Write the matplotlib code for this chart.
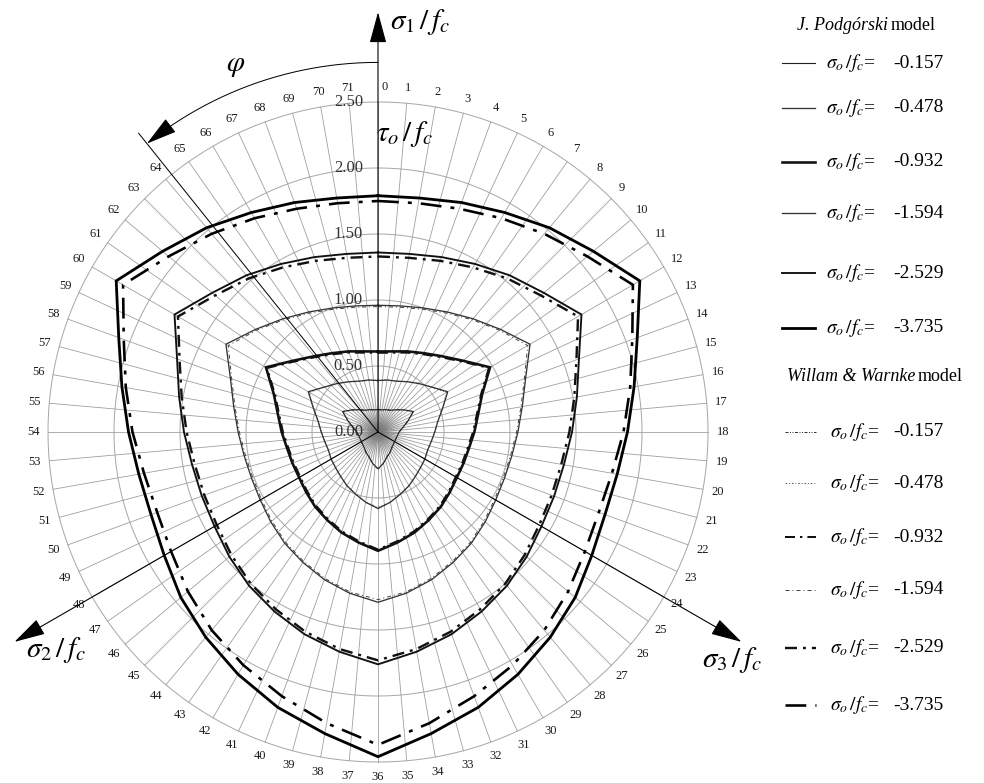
import numpy as np
import matplotlib
matplotlib.use("Agg")
import matplotlib.pyplot as plt

plt.rcParams['font.family'] = ['Liberation Serif', 'DejaVu Serif']
plt.rcParams['mathtext.fontset'] = 'stix'

# ---------------- data ----------------
# angle phi (deg, clockwise from sigma1 axis) for the right half; left half is the mirror image
ANG = [0, 10, 20, 30, 40, 50, 60, 70, 80, 90, 100, 110, 120, 130, 140, 150, 160, 170, 180]
LEVELS = ["-0.157", "-0.478", "-0.932", "-1.594", "-2.529", "-3.735"]

# J. Podgorski model: tau_o/f_c at the angles above
P_0157 = [0.17, 0.17, 0.18, 0.19, 0.22, 0.26, 0.31, 0.24, 0.19, 0.16, 0.15, 0.145, 0.145, 0.15, 0.16, 0.18, 0.20, 0.24, 0.28]
P_0478 = [0.39, 0.40, 0.41, 0.44, 0.48, 0.53, 0.61, 0.52, 0.46, 0.43, 0.41, 0.40, 0.41, 0.42, 0.44, 0.47, 0.50, 0.54, 0.58]
P_0932 = [0.61, 0.62, 0.65, 0.69, 0.75, 0.84, 0.98, 0.84, 0.77, 0.73, 0.70, 0.69, 0.69, 0.71, 0.74, 0.77, 0.81, 0.85, 0.90]
P_1594 = [0.96, 0.97, 1.00, 1.05, 1.12, 1.21, 1.33, 1.19, 1.11, 1.06, 1.03, 1.02, 1.03, 1.06, 1.10, 1.14, 1.19, 1.24, 1.29]
P_2529 = [1.36, 1.37, 1.41, 1.47, 1.55, 1.64, 1.78, 1.62, 1.53, 1.47, 1.43, 1.42, 1.43, 1.47, 1.52, 1.57, 1.63, 1.69, 1.76]
P_3735 = [1.79, 1.80, 1.85, 1.92, 2.02, 2.13, 2.29, 2.09, 1.97, 1.89, 1.84, 1.83, 1.87, 1.95, 2.03, 2.12, 2.22, 2.32, 2.46]

# Willam & Warnke model
W_0157 = [0.17, 0.17, 0.18, 0.19, 0.22, 0.26, 0.31, 0.24, 0.19, 0.16, 0.15, 0.145, 0.145, 0.15, 0.16, 0.18, 0.20, 0.24, 0.28]
W_0478 = [0.39, 0.40, 0.41, 0.44, 0.48, 0.53, 0.60, 0.52, 0.46, 0.43, 0.41, 0.40, 0.41, 0.42, 0.44, 0.47, 0.50, 0.54, 0.57]
W_0932 = [0.60, 0.61, 0.64, 0.68, 0.74, 0.83, 0.97, 0.83, 0.76, 0.72, 0.69, 0.68, 0.68, 0.70, 0.73, 0.76, 0.80, 0.84, 0.89]
W_1594 = [0.95, 0.96, 0.99, 1.04, 1.11, 1.20, 1.31, 1.18, 1.10, 1.05, 1.02, 1.01, 1.02, 1.05, 1.09, 1.13, 1.18, 1.23, 1.27]
W_2529 = [1.33, 1.34, 1.38, 1.44, 1.52, 1.61, 1.75, 1.60, 1.51, 1.45, 1.41, 1.40, 1.41, 1.45, 1.50, 1.55, 1.61, 1.67, 1.73]
W_3735 = [1.75, 1.76, 1.80, 1.87, 1.96, 2.07, 2.23, 2.05, 1.94, 1.86, 1.80, 1.78, 1.81, 1.88, 1.96, 2.04, 2.13, 2.24, 2.37]

RINGS = [0.0, 0.5, 1.0, 1.5, 2.0, 2.5]
SPOKE_LABELS = [str(k) for k in range(72)]

# ---------------- layout ----------------
W, H = 984, 783
PX = 132.0            # pixels per unit of tau_o/f_c
CX, CY = 378, 432     # centre in pixels
fig = plt.figure(figsize=(W / 100, H / 100), dpi=100)
ax = fig.add_axes([0, 0, 1, 1])
ax.set_xlim(-CX / PX, (W - CX) / PX)
ax.set_ylim(-(H - CY) / PX, CY / PX)
ax.set_aspect('equal')
ax.axis('off')


def pol(r, deg):
    t = np.deg2rad(np.asarray(deg, dtype=float))
    return np.asarray(r) * np.sin(t), np.asarray(r) * np.cos(t)


def lw(px):
    return px * 0.72


GRID = '#a8a8a8'
# rings
tt = np.linspace(0, 360, 721)
for r in RINGS[1:]:
    x, y = pol(r, tt)
    ax.plot(x, y, color=GRID, lw=lw(1.0), zorder=1)
# spokes
nsp = len(SPOKE_LABELS)
for k in range(nsp):
    x, y = pol([0, RINGS[-1]], [k * 360 / nsp] * 2)
    ax.plot(x, y, color='#9c9c9c', lw=lw(0.8), zorder=1)
# soft grey haze where the spokes converge
g = np.linspace(-0.32, 0.32, 161)
gx, gy = np.meshgrid(g, g)
alpha = 0.55 * np.exp(-(gx ** 2 + gy ** 2) / (2 * 0.09 ** 2))
haze = np.zeros(gx.shape + (4,))
haze[..., :3] = 0.35
haze[..., 3] = alpha
ax.imshow(haze, extent=(-0.32, 0.32, -0.32, 0.32), origin='lower', zorder=2,
          interpolation='bilinear')
ax.set_xlim(-CX / PX, (W - CX) / PX)
ax.set_ylim(-(H - CY) / PX, CY / PX)

# spoke numbers
for k, lab in enumerate(SPOKE_LABELS):
    x, y = pol(345 / PX, k * 360 / nsp)
    if k == 0:
        x += 7 / PX
    ax.text(x, y, lab, ha='center', va='center', fontsize=9, color='#1a1a1a')
# ring values
for r in RINGS:
    ax.text(-15 / PX, r, f"{r:.2f}", ha='right', va='center', fontsize=12, color='#333333', zorder=3)

# ---------------- curves ----------------
def full(rr):
    a = list(ANG) + [360 - a for a in ANG[-2::-1]]
    r = list(rr) + list(rr[-2::-1])
    return pol(r, a)

P_SERIES = [P_0157, P_0478, P_0932, P_1594, P_2529, P_3735]
W_SERIES = [W_0157, W_0478, W_0932, W_1594, W_2529, W_3735]
P_STYLE = [dict(lw=lw(1.1), color='#222222'),
           dict(lw=lw(1.3), color='#333333'),
           dict(lw=lw(2.6), color='#111111'),
           dict(lw=lw(1.3), color='#333333'),
           dict(lw=lw(1.9), color='#111111'),
           dict(lw=lw(2.8), color='#000000')]
W_STYLE = [dict(lw=lw(1.0), color='#333333', dashes=(3, 1.5, 1, 1.5, 1, 1.5)),
           dict(lw=lw(0.9), color='#555555', dashes=(2, 2, 1, 2)),
           dict(lw=lw(2.0), color='#111111', dashes=(5, 2.5, 1.2, 2.5)),
           dict(lw=lw(1.0), color='#444444', dashes=(4, 3, 1, 3)),
           dict(lw=lw(2.4), color='#111111', dashes=(5, 2.5, 1.2, 2.5)),
           dict(lw=lw(2.6), color='#000000', dashes=(8, 3.5, 1.5, 3.5))]

for rr, st in zip(W_SERIES, W_STYLE):
    x, y = full(rr)
    ax.plot(x, y, zorder=4, solid_joinstyle='miter', **st)
for rr, st in zip(P_SERIES, P_STYLE):
    x, y = full(rr)
    ax.plot(x, y, zorder=5, solid_joinstyle='miter', **st)

# ---------------- axes arrows ----------------
AX_LEN = 3.18
for ang in (0, 120, 240):
    x, y = pol(AX_LEN, ang)
    ax.annotate('', xy=(x, y), xytext=(0, 0), zorder=6,
                arrowprops=dict(arrowstyle='-|>,head_length=1.4,head_width=0.38',
                                color='black', lw=lw(1.1), shrinkA=0, shrinkB=0,
                                mutation_scale=14))
# phi line and arc
x, y = pol(2.9, 321.3)
ax.plot([0, x], [0, y], color='black', lw=lw(1.0), zorder=6)
ta = np.linspace(0, -36.5, 200)
x, y = pol(2.80, ta)
ax.plot(x, y, color='black', lw=lw(1.0), zorder=6)
x0, y0 = pol(2.80, -36.0)
x1, y1 = pol(2.80, -38.7)
ax.annotate('', xy=(x1, y1), xytext=(x0, y0), zorder=6,
            arrowprops=dict(arrowstyle='-|>,head_length=1.4,head_width=0.38',
                            color='black', lw=lw(1.0), shrinkA=0, shrinkB=0,
                            mutation_scale=14))

def ptext(px, py, s, **kw):
    ax.text((px - CX) / PX, (CY - py) / PX, s, **kw)

ptext(420, 22, r'$\sigma_1\,/\,f_c$', fontsize=21, ha='center', va='center')
ptext(56, 650, r'$\sigma_2\,/\,f_c$', fontsize=21, ha='center', va='center')
ptext(732, 660, r'$\sigma_3\,/\,f_c$', fontsize=21, ha='center', va='center')
ptext(405, 134, r'$\tau_o\,/\,f_c$', fontsize=21, ha='center', va='center', zorder=7)
ptext(236, 66, r'$\varphi$', fontsize=21, ha='center', va='center')

# ---------------- legend ----------------
def fx(px):
    return px / W

def fy(py):
    return 1 - py / H

fig.text(fx(888), fy(25), 'J. Podgórski', style='italic', fontsize=13, ha='right', va='center')
fig.text(fx(891), fy(25), 'model', fontsize=13, ha='left', va='center')
fig.text(fx(915), fy(377), 'Willam & Warnke', style='italic', fontsize=13, ha='right', va='center')
fig.text(fx(918), fy(377), 'model', fontsize=13, ha='left', va='center')

P_ROWS = [63, 108, 162, 213, 273, 328]
W_ROWS = [432, 483, 537, 590, 648, 705]
for lev, st, py in zip(LEVELS, P_STYLE, P_ROWS):
    fig.add_artist(plt.Line2D([fx(782), fx(815)], [fy(py), fy(py)], **st))
    fig.text(fx(826), fy(py), r'$\sigma_o\,/f_c$=', fontsize=14, ha='left', va='center')
    fig.text(fx(893), fy(py), lev, fontsize=14, ha='left', va='center')
for lev, st, py in zip(LEVELS, W_STYLE, W_ROWS):
    fig.add_artist(plt.Line2D([fx(785), fx(816)], [fy(py), fy(py)], **st))
    fig.text(fx(830), fy(py), r'$\sigma_o\,/f_c$=', fontsize=14, ha='left', va='center')
    fig.text(fx(893), fy(py), lev, fontsize=14, ha='left', va='center')

fig.savefig('out.png', dpi=100, facecolor='white')
